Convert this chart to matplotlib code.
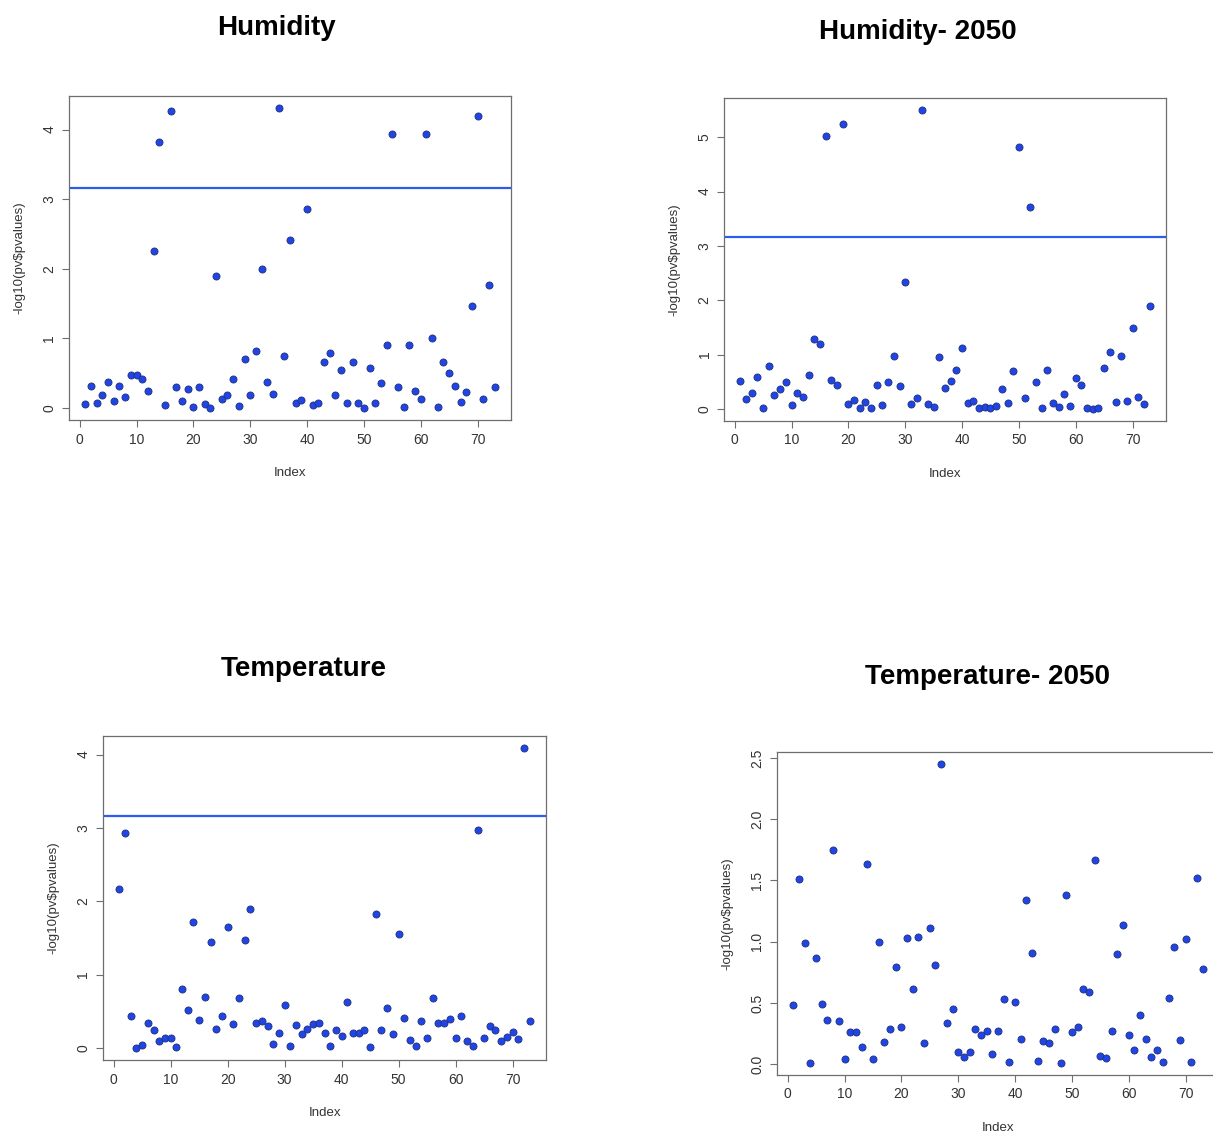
#!/usr/bin/env python3
"""
Four Manhattan-style panels: -log10(p) per index for humidity / temperature,
current and 2050, with the Bonferroni threshold line.
"""
import numpy as np
import matplotlib
matplotlib.use("Agg")
import matplotlib.pyplot as plt
from matplotlib.ticker import MultipleLocator, FormatStrFormatter

plt.rcParams["font.family"] = ["Liberation Sans", "DejaVu Sans"]

# -log10(pv$pvalues), index 1..73
humidity = [
    0.06, 0.32, 0.07, 0.19, 0.38, 0.10, 0.31, 0.16, 0.48, 0.48,
    0.41, 0.25, 2.26, 3.82, 0.05, 4.27, 0.30, 0.10, 0.28, 0.01,
    0.30, 0.06, 0.00, 1.90, 0.13, 0.19, 0.41, 0.03, 0.70, 0.18,
    0.82, 2.00, 0.38, 0.20, 4.31, 0.75, 2.42, 0.07, 0.11, 2.86,
    0.04, 0.07, 0.66, 0.79, 0.18, 0.54, 0.07, 0.66, 0.07, 0.00,
    0.58, 0.07, 0.36, 0.91, 3.93, 0.30, 0.02, 0.91, 0.24, 0.13,
    3.93, 1.01, 0.02, 0.66, 0.51, 0.32, 0.09, 0.23, 1.46, 4.20,
    0.13, 1.77, 0.30,
]
humidity_2050 = [
    0.51, 0.19, 0.29, 0.59, 0.01, 0.79, 0.26, 0.37, 0.49, 0.07,
    0.29, 0.23, 0.62, 1.28, 1.20, 5.02, 0.54, 0.45, 5.24, 0.10,
    0.17, 0.01, 0.13, 0.02, 0.45, 0.07, 0.50, 0.97, 0.42, 2.33,
    0.09, 0.20, 5.50, 0.10, 0.04, 0.95, 0.38, 0.51, 0.71, 1.13,
    0.11, 0.14, 0.02, 0.03, 0.02, 0.06, 0.36, 0.11, 0.70, 4.82,
    0.20, 3.71, 0.49, 0.02, 0.71, 0.12, 0.04, 0.28, 0.05, 0.57,
    0.45, 0.02, 0.00, 0.02, 0.76, 1.05, 0.13, 0.97, 0.15, 1.49,
    0.23, 0.10, 1.89,
]
temperature = [
    2.17, 2.93, 0.44, 0.00, 0.04, 0.34, 0.24, 0.10, 0.14, 0.14,
    0.01, 0.81, 0.52, 1.72, 0.38, 0.70, 1.45, 0.26, 0.44, 1.65,
    0.33, 0.68, 1.47, 1.90, 0.34, 0.37, 0.30, 0.06, 0.21, 0.59,
    0.03, 0.32, 0.19, 0.26, 0.33, 0.34, 0.21, 0.03, 0.24, 0.16,
    0.63, 0.20, 0.20, 0.24, 0.02, 1.83, 0.24, 0.54, 0.19, 1.55,
    0.41, 0.11, 0.03, 0.37, 0.13, 0.68, 0.34, 0.34, 0.40, 0.13,
    0.44, 0.09, 0.03, 2.97, 0.13, 0.30, 0.24, 0.10, 0.15, 0.22,
    0.12, 4.09, 0.37,
]
temperature_2050 = [
    0.48, 1.51, 0.99, 0.01, 0.87, 0.49, 0.36, 1.75, 0.35, 0.04,
    0.26, 0.26, 0.14, 1.63, 0.04, 1.00, 0.18, 0.29, 0.79, 0.30,
    1.03, 0.61, 1.04, 0.17, 1.11, 0.81, 2.45, 0.34, 0.45, 0.10,
    0.06, 0.10, 0.29, 0.24, 0.27, 0.08, 0.27, 0.53, 0.02, 0.51,
    0.21, 1.34, 0.91, 0.03, 0.19, 0.17, 0.29, 0.01, 1.38, 0.26,
    0.30, 0.61, 0.59, 1.67, 0.07, 0.05, 0.27, 0.90, 1.14, 0.24,
    0.12, 0.40, 0.21, 0.06, 0.12, 0.02, 0.54, 0.96, 0.20, 1.02,
    0.02, 1.52, 0.78,
]

titles = ["Humidity", "Humidity- 2050", "Temperature", "Temperature- 2050"]
THRESHOLD = 3.164   # blue line, -log10(0.05/73)

W, H = 1213, 1133
# panel boxes in pixels: left, right, top, bottom (axes) + title centre
panels = [
    (humidity,         (69, 511, 96, 420),    (276, 28),  1.0),
    (humidity_2050,    (724, 1166, 98, 421),  (918, 32),  1.0),
    (temperature,      (103, 546, 736, 1060), (304, 669), 1.0),
    (temperature_2050, (777, 1219, 752, 1075), (987, 677), 0.5),
]

TXT = "#333333"
GRID = "#6e6e6e"

fig = plt.figure(figsize=(W / 100, H / 100), dpi=100)

for (vals, (l, r, t, b), (tx, ty), ystep), title in zip(panels, titles):
    ax = fig.add_axes([l / W, 1 - b / H, (r - l) / W, (b - t) / H])
    y = np.asarray(vals)
    x = np.arange(1, len(y) + 1)

    # R style 4% padding
    xr = x.max() - x.min()
    yr = y.max() - y.min()
    ax.set_xlim(x.min() - 0.04 * xr, x.max() + 0.04 * xr)
    ax.set_ylim(y.min() - 0.04 * yr, y.max() + 0.04 * yr)

    ax.scatter(x, y, s=26, c="#1f45e6", edgecolors="#22307a", linewidths=0.6, zorder=3)
    ax.axhline(THRESHOLD, color="#2a5cf0", lw=1.6, zorder=2)

    ax.xaxis.set_major_locator(MultipleLocator(10))
    ax.yaxis.set_major_locator(MultipleLocator(ystep))
    if ystep < 1:
        ax.yaxis.set_major_formatter(FormatStrFormatter("%.1f"))

    for s in ax.spines.values():
        s.set_color(GRID)
        s.set_linewidth(0.9)
    ax.tick_params(length=5, width=0.8, color=GRID, labelcolor=TXT, labelsize=10, pad=4)
    ax.tick_params(axis="y", labelrotation=90)
    for lab in ax.get_yticklabels():
        lab.set_va("center")

    ax.set_xlabel("Index", fontsize=9.5, color=TXT, labelpad=15)
    ax.set_ylabel("-log10(pv$pvalues)", fontsize=9.5, color=TXT, labelpad=12)

    fig.text(tx / W, 1 - ty / H, title, ha="center", va="center",
             fontsize=20, fontweight="bold", color="black")

fig.savefig("out.png", dpi=100)
